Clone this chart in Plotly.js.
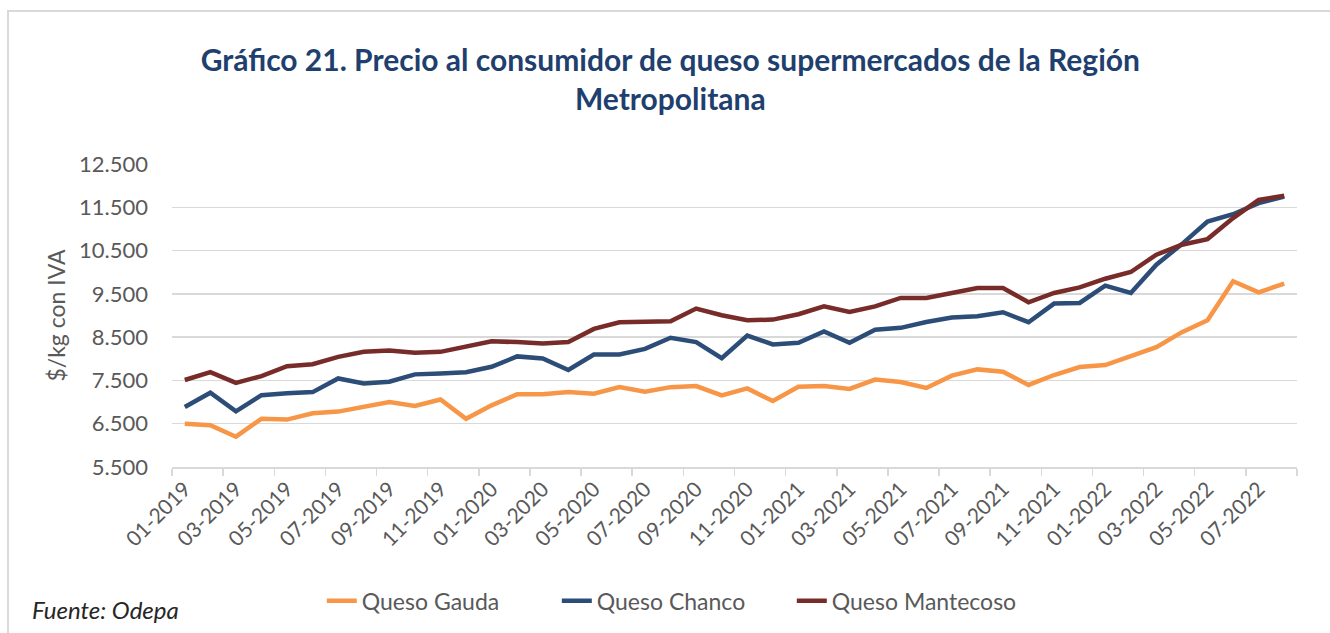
<!DOCTYPE html>
<html>
<head>
<meta charset="utf-8">
<script src="https://cdn.plot.ly/plotly-3.0.1.min.js"></script>
<style>
html,body{margin:0;padding:0;background:#fff;}
#chart{width:1330px;height:633px;}
</style>
</head>
<body>
<div id="chart"></div>
<script>
var months = [
  "01-2019","02-2019","03-2019","04-2019","05-2019","06-2019","07-2019","08-2019","09-2019","10-2019","11-2019","12-2019",
  "01-2020","02-2020","03-2020","04-2020","05-2020","06-2020","07-2020","08-2020","09-2020","10-2020","11-2020","12-2020",
  "01-2021","02-2021","03-2021","04-2021","05-2021","06-2021","07-2021","08-2021","09-2021","10-2021","11-2021","12-2021",
  "01-2022","02-2022","03-2022","04-2022","05-2022","06-2022","07-2022","08-2022"
];

var gauda = [
  6500, 6465, 6200, 6615, 6595, 6740, 6780, 6895, 7000, 6910, 7060, 6615,
  6925, 7180, 7180, 7230, 7195, 7345, 7240, 7345, 7370, 7155, 7315, 7025,
  7355, 7370, 7305, 7520, 7465, 7325, 7610, 7755, 7700, 7395, 7625, 7810,
  7855, 8060, 8270, 8615, 8890, 9790, 9535, 9735
];

var chanco = [
  6885, 7215, 6785, 7160, 7205, 7230, 7545, 7430, 7470, 7640, 7660, 7690,
  7815, 8055, 8005, 7740, 8100, 8100, 8230, 8485, 8385, 8015, 8535, 8330,
  8370, 8630, 8370, 8670, 8715, 8850, 8955, 8985, 9075, 8845, 9275, 9290,
  9690, 9520, 10175, 10650, 11170, 11340, 11595, 11750
];

var mantecoso = [
  7510, 7690, 7445, 7600, 7830, 7875, 8045, 8160, 8190, 8140, 8160, 8290,
  8405, 8385, 8355, 8385, 8690, 8845, 8865, 8865, 9160, 9005, 8890, 8905,
  9030, 9210, 9080, 9210, 9405, 9405, 9520, 9635, 9635, 9305, 9520, 9650,
  9850, 10005, 10405, 10635, 10765, 11250, 11670, 11770
];

var idx = months.map(function(m, i){ return i; });
var labelIdx = idx.filter(function(i){ return i % 2 === 0; });
var labelText = labelIdx.map(function(i){ return months[i]; });

var FONT = "Lato, 'Open Sans', sans-serif";
var GREY = "#595959";

var traces = [
  {x: idx, y: gauda, name: "Queso Gauda", type: "scatter", mode: "lines",
   line: {color: "#F79646", width: 4.5}},
  {x: idx, y: chanco, name: "Queso Chanco", type: "scatter", mode: "lines",
   line: {color: "#2C4D77", width: 4.5}},
  {x: idx, y: mantecoso, name: "Queso Mantecoso", type: "scatter", mode: "lines",
   line: {color: "#772C2A", width: 4.5}}
];

var layout = {
  width: 1330, height: 633,
  paper_bgcolor: "#ffffff", plot_bgcolor: "#ffffff",
  separators: ",.",
  font: {family: FONT, color: GREY, size: 18},
  margin: {l: 172, r: 33, t: 164, b: 166},
  title: {
    text: "<b>Gráfico 21. Precio al consumidor de queso supermercados de la Región<br>Metropolitana</b>",
    font: {family: FONT, size: 30, color: "#1F3F6E"},
    x: 0.504, xref: "container", xanchor: "center",
    y: 1 - 71 / 633, yref: "container", yanchor: "middle"
  },
  xaxis: {
    type: "linear",
    range: [-0.5, idx.length - 0.5],
    tickmode: "array", tickvals: labelIdx, ticktext: labelText,
    tickangle: -45, ticks: "",
    tickfont: {family: FONT, size: 21, color: GREY},
    showgrid: false, zeroline: false,
    showline: true, linecolor: "#d9d9d9", linewidth: 1.5,
    minor: {tickmode: "linear", tick0: -0.5, dtick: 2, ticks: "outside",
            ticklen: 7, tickcolor: "#d9d9d9", tickwidth: 1.5, showgrid: false},
    fixedrange: true
  },
  yaxis: {
    range: [5500, 12500],
    tick0: 5500, dtick: 1000,
    tickformat: ",d",
    ticks: "", ticklabelstandoff: 23,
    tickfont: {family: FONT, size: 22, color: GREY},
    showgrid: true, gridcolor: "#d9d9d9", gridwidth: 1.5,
    zeroline: false, showline: false,
    title: {text: "$/kg con IVA", font: {family: FONT, size: 23, color: GREY}, standoff: 6},
    fixedrange: true
  },
  showlegend: true,
  legend: {
    orientation: "h",
    x: 0.507, xref: "container", xanchor: "center",
    y: 0.051, yref: "container", yanchor: "middle",
    font: {family: FONT, size: 23, color: GREY},
    entrywidth: 190,
    bgcolor: "rgba(0,0,0,0)"
  },
  annotations: [
    {text: "<i>Fuente: Odepa</i>", xref: "paper", yref: "paper",
     x: (30 - 172) / 1125, y: (467 - 609) / 303, xanchor: "left", yanchor: "middle",
     showarrow: false, font: {family: FONT, size: 24, color: "#262626"}}
  ],
  shapes: [
    {type: "rect", xref: "paper", yref: "paper",
     x0: (8 - 172) / 1125, x1: (1340 - 172) / 1125,
     y0: (467 - 645) / 303, y1: (467 - 11) / 303,
     line: {color: "#d9d9d9", width: 2}, fillcolor: "rgba(0,0,0,0)", layer: "below"}
  ]
};

Plotly.newPlot("chart", traces, layout, {displayModeBar: false, staticPlot: true});
</script>
</body>
</html>
